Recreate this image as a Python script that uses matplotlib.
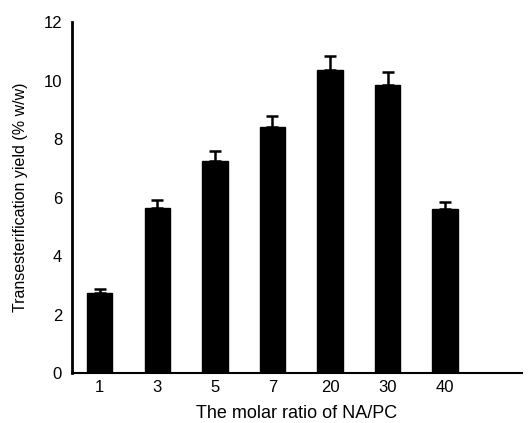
import matplotlib.pyplot as plt
import numpy as np

plt.rcParams['font.family'] = ['Liberation Sans', 'DejaVu Sans']

# molar ratio NA/PC and transesterification yield (% w/w)
ratios = ['1', '3', '5', '7', '20', '30', '40']
yield_mean = [2.75, 5.65, 7.25, 8.4, 10.35, 9.85, 5.6]
yield_err = [0.12, 0.27, 0.35, 0.37, 0.5, 0.45, 0.25]

fig = plt.figure(figsize=(5.28, 4.23), dpi=100)
ax = fig.add_axes([0.136, 0.118, 0.853, 0.830])

x = np.arange(len(ratios))
ax.bar(x, yield_mean, width=0.44, color='black', edgecolor='black')
# only the upper half of each error bar is shown
ax.errorbar(x, yield_mean, yerr=[np.zeros(len(yield_err)), yield_err],
            fmt='none', ecolor='black', elinewidth=1.8, capsize=4, capthick=1.8)

ax.set_xlim(-0.487, 7.34)
ax.set_ylim(0, 12)
ax.set_yticks(np.arange(0, 13, 2))
ax.set_xticks(x)
ax.set_xticklabels(ratios)

ax.spines['top'].set_visible(False)
ax.spines['right'].set_visible(False)
ax.spines['left'].set_linewidth(2)
ax.spines['bottom'].set_linewidth(1.5)
ax.tick_params(axis='y', length=0, pad=7, labelsize=12)
ax.tick_params(axis='x', length=0, pad=5, labelsize=12)

ax.set_xlabel('The molar ratio of NA/PC', fontsize=13, labelpad=7)
ax.set_ylabel('Transesterification yield (% w/w)', fontsize=11.5, labelpad=11)

fig.savefig('out.png', dpi=100)
